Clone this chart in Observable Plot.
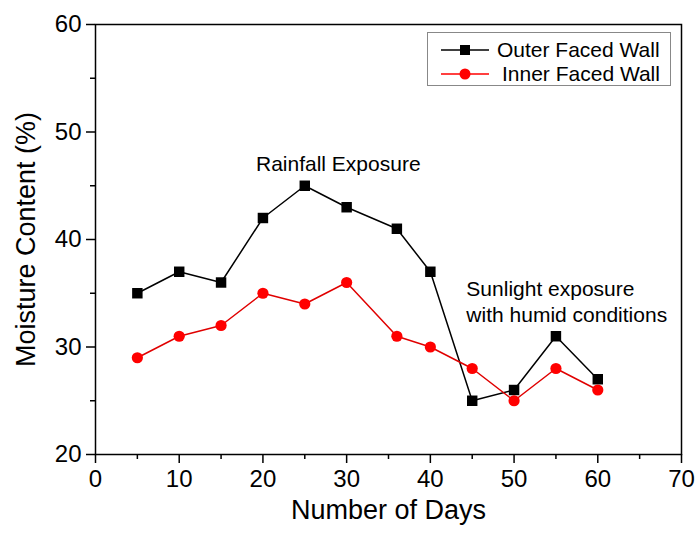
<!DOCTYPE html>
<html>
<head>
<meta charset="utf-8">
<script src="https://cdn.jsdelivr.net/npm/d3@7"></script>
<script src="https://cdn.jsdelivr.net/npm/@observablehq/plot@0.6"></script>
<style>
  body { margin: 0; background: #fff; }
  #wrap { position: relative; width: 698px; height: 536px; font-family: "Liberation Sans", Arial, sans-serif; }
  #legend { position: absolute; left: 427px; top: 32px; width: 244px; height: 54px; border: 1px solid #888; background: #fff; box-sizing: border-box; }
  .row { position: absolute; left: 0; height: 24px; display: flex; align-items: center; font-size: 21px; color: #000; white-space: nowrap; }
  .row svg { margin-left: 13px; }
</style>
</head>
<body>
<div id="wrap"></div>
<script>
const days = [5, 10, 15, 20, 25, 30, 36, 40, 45, 50, 55, 60];
const outerWall = [35, 37, 36, 42, 45, 43, 41, 37, 25, 26, 31, 27];
const innerWall = [29, 31, 32, 35, 34, 36, 31, 30, 28, 25, 28, 26];
const seriesNames = ["Outer Faced Wall", "Inner Faced Wall"];
const xMajorTicks = [0, 10, 20, 30, 40, 50, 60, 70];
const xMinorTicks = [5, 15, 25, 35, 45, 55, 65];
const yMajorTicks = [20, 30, 40, 50, 60];
const yMinorTicks = [25, 35, 45, 55];
const notes = [
  {x: 29, y: 47, text: "Rainfall Exposure", anchor: "middle"},
  {x: 44.3, y: 34.3, text: "Sunlight exposure\nwith humid conditions", anchor: "start"}
];

const outerData = days.map((d, i) => ({day: d, value: outerWall[i]}));
const innerData = days.map((d, i) => ({day: d, value: innerWall[i]}));

const chart = Plot.plot({
  width: 698,
  height: 536,
  marginLeft: 95,
  marginRight: 17,
  marginTop: 24,
  marginBottom: 82,
  style: {fontFamily: "'Liberation Sans', Arial, sans-serif", color: "#000", background: "#fff"},
  x: {domain: [0, 70]},
  y: {domain: [20, 60]},
  marks: [
    Plot.frame({stroke: "#000", strokeWidth: 1.5}),
    Plot.axisX({ticks: xMajorTicks, tickSize: 9, tickPadding: 6, fontSize: 24, strokeWidth: 1.5, label: null}),
    Plot.axisX({ticks: xMinorTicks, tickSize: 5, text: null, strokeWidth: 1.5, label: null}),
    Plot.axisY({ticks: yMajorTicks, tickSize: 9, tickPadding: 5, fontSize: 24, strokeWidth: 1.5, label: null}),
    Plot.axisY({ticks: yMinorTicks, tickSize: 5, text: null, strokeWidth: 1.5, label: null}),
    Plot.text(["Number of Days"], {frameAnchor: "bottom", dy: 64, fontSize: 27, fill: "#000"}),
    Plot.text(["Moisture Content (%)"], {frameAnchor: "left", dx: -69, rotate: -90, textAnchor: "middle", fontSize: 27, fill: "#000"}),
    Plot.line(outerData, {x: "day", y: "value", stroke: "#000", strokeWidth: 1.5}),
    Plot.line(innerData, {x: "day", y: "value", stroke: "#e00000", strokeWidth: 1.5}),
    Plot.dot(outerData, {x: "day", y: "value", symbol: "square", r: 5.9, fill: "#000", stroke: "none"}),
    Plot.dot(innerData, {x: "day", y: "value", symbol: "circle", r: 5.6, fill: "#ff0000", stroke: "none"}),
    Plot.text(notes.filter(n => n.anchor === "middle"), {x: "x", y: "y", text: "text", textAnchor: "middle", fontSize: 21, fill: "#000"}),
    Plot.text(notes.filter(n => n.anchor === "start"), {x: "x", y: "y", text: "text", textAnchor: "start", fontSize: 21, lineHeight: 1.24, fill: "#000"})
  ]
});

const wrap = document.getElementById("wrap");
wrap.appendChild(chart);

const legend = document.createElement("div");
legend.id = "legend";
const styles = [
  {color: "#000", shape: "square", top: 5, gap: 8},
  {color: "#ff0000", shape: "circle", top: 29, gap: 13}
];
seriesNames.forEach((name, i) => {
  const s = styles[i];
  const row = document.createElement("div");
  row.className = "row";
  row.style.top = s.top + "px";
  const marker = s.shape === "square"
    ? `<rect x="19" y="7" width="10" height="10" fill="${s.color}"/>`
    : `<circle cx="24" cy="12" r="5.5" fill="${s.color}"/>`;
  row.innerHTML = `<svg width="48" height="24" style="margin-right:${s.gap}px"><line x1="0" x2="48" y1="12" y2="12" stroke="${s.color}" stroke-width="1.5"/>${marker}</svg><span>${name}</span>`;
  legend.appendChild(row);
});
wrap.appendChild(legend);
</script>
</body>
</html>
